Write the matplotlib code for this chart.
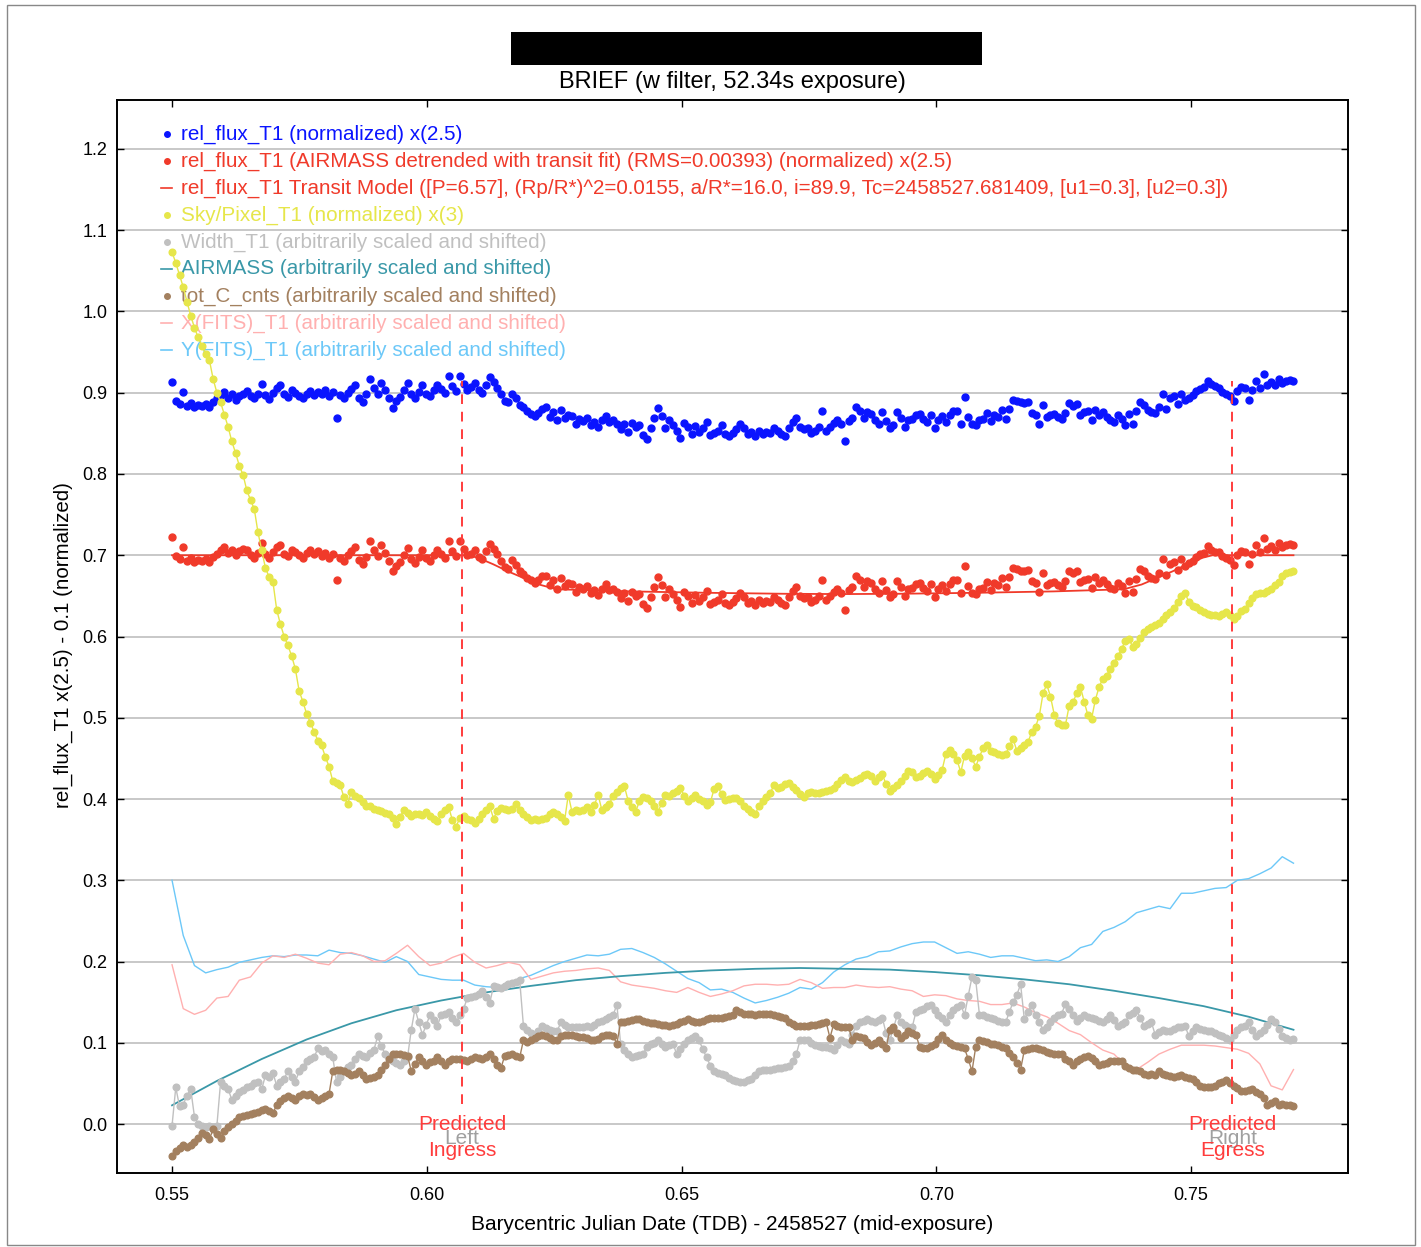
import numpy as np
import matplotlib.pyplot as plt
from matplotlib.patches import Rectangle

plt.rcParams['font.family'] = ['Liberation Sans', 'DejaVu Sans']

# frame mid-exposure times, BJD_TDB - 2458527
n_frames = 301
bjd = np.linspace(0.5500, 0.7701, n_frames)

# rel_flux_T1 (normalized) x2.5, in units of 0.001
rel_flux = [
    913, 890, 886, 901, 884, 887, 883, 885, 884, 886, 883, 889, 893, 897, 901, 894, 898, 891, 896, 899,
    902, 896, 893, 899, 911, 897, 892, 900, 906, 909, 898, 895, 903, 900, 896, 893, 899, 902, 897, 901,
    899, 903, 896, 901, 869, 897, 893, 900, 905, 910, 894, 889, 898, 917, 906, 899, 912, 903, 893, 881,
    890, 895, 903, 912, 898, 893, 901, 910, 899, 896, 903, 909, 905, 900, 921, 908, 902, 920, 911, 903,
    907, 912, 903, 900, 910, 919, 913, 906, 898, 890, 888, 899, 893, 885, 882, 877, 874, 871, 875, 880,
    882, 870, 876, 866, 879, 869, 873, 871, 862, 868, 865, 869, 860, 864, 858, 866, 871, 864, 866, 862,
    855, 861, 852, 863, 858, 860, 848, 843, 856, 869, 881, 871, 857, 866, 860, 853, 844, 863, 858, 849,
    859, 852, 856, 864, 848, 850, 853, 860, 849, 847, 851, 855, 861, 857, 849, 852, 847, 853, 849, 852,
    851, 857, 853, 849, 847, 857, 864, 869, 858, 855, 857, 851, 853, 858, 877, 853, 858, 863, 866, 861,
    840, 865, 869, 882, 878, 869, 876, 874, 867, 862, 876, 865, 856, 860, 876, 869, 858, 866, 868, 872,
    874, 868, 864, 873, 856, 866, 871, 864, 873, 877, 878, 862, 895, 870, 862, 860, 866, 868, 875, 865,
    873, 870, 879, 868, 880, 891, 890, 888, 887, 889, 875, 873, 862, 885, 870, 873, 874, 870, 868, 875,
    887, 884, 886, 873, 876, 877, 866, 879, 872, 876, 870, 866, 864, 872, 868, 860, 874, 861, 877, 889,
    885, 879, 876, 875, 882, 899, 880, 893, 896, 886, 899, 891, 894, 897, 902, 905, 907, 915, 911, 908,
    906, 901, 899, 896, 890, 902, 907, 906, 891, 903, 915, 906, 923, 910, 913, 909, 917, 912, 915, 916,
    915,
]

# rel_flux_T1 airmass detrended, x2.5
rel_flux_detr = [
    722, 699, 695, 710, 693, 696, 692, 694, 693, 695, 692, 698, 702, 706, 710, 703, 707, 700, 705, 708,
    706, 700, 697, 703, 715, 701, 696, 704, 710, 713, 702, 699, 707, 704, 700, 697, 703, 706, 701, 705,
    699, 703, 696, 701, 669, 697, 693, 700, 705, 710, 694, 689, 698, 717, 706, 699, 712, 703, 693, 681,
    687, 692, 700, 709, 695, 690, 698, 707, 696, 693, 700, 706, 702, 697, 718, 705, 699, 717, 708, 700,
    702, 707, 698, 695, 705, 714, 708, 701, 693, 685, 683, 694, 688, 680, 677, 672, 669, 666, 670, 675,
    675, 663, 669, 659, 672, 662, 666, 664, 655, 661, 658, 662, 653, 657, 651, 659, 664, 657, 659, 655,
    647, 653, 644, 655, 650, 652, 640, 635, 648, 661, 673, 663, 649, 658, 652, 645, 636, 655, 650, 641,
    651, 644, 648, 656, 640, 642, 645, 652, 641, 639, 643, 647, 653, 649, 641, 644, 639, 645, 641, 644,
    643, 649, 645, 641, 639, 649, 656, 661, 650, 647, 649, 643, 645, 650, 669, 645, 650, 655, 658, 653,
    632, 657, 661, 674, 670, 661, 668, 666, 659, 654, 668, 657, 648, 652, 668, 661, 650, 658, 660, 664,
    666, 660, 656, 665, 648, 658, 663, 656, 665, 669, 670, 654, 687, 662, 654, 652, 658, 660, 667, 657,
    666, 663, 672, 661, 673, 684, 683, 681, 680, 682, 668, 666, 655, 678, 663, 666, 667, 663, 661, 668,
    681, 678, 680, 667, 670, 671, 660, 673, 666, 670, 664, 660, 658, 666, 662, 654, 668, 655, 671, 683,
    681, 675, 672, 671, 678, 695, 676, 689, 692, 682, 695, 687, 690, 693, 698, 701, 703, 711, 707, 704,
    704, 699, 697, 694, 688, 700, 705, 704, 689, 701, 713, 704, 721, 708, 711, 707, 715, 710, 713, 714,
    713,
]

# Sky/Pixel_T1 (normalized) x3
sky = [
    1073, 1060, 1045, 1030, 1012, 995, 980, 968, 958, 948, 940, 917, 900, 888, 873, 858, 840, 826, 810, 799,
    780, 768, 757, 728, 706, 684, 673, 667, 633, 615, 600, 589, 576, 560, 533, 520, 505, 494, 483, 472,
    466, 452, 440, 422, 420, 417, 402, 394, 409, 404, 401, 396, 392, 391, 388, 386, 385, 383, 381, 377,
    369, 378, 386, 383, 379, 381, 382, 380, 384, 379, 375, 373, 381, 386, 390, 374, 366, 377, 379, 376,
    374, 371, 376, 381, 387, 391, 376, 385, 389, 388, 387, 388, 394, 386, 381, 378, 374, 375, 374, 376,
    377, 381, 384, 381, 378, 373, 405, 384, 387, 385, 387, 390, 384, 393, 405, 386, 390, 394, 404, 409,
    413, 416, 398, 390, 384, 397, 403, 401, 398, 391, 384, 395, 405, 404, 407, 410, 414, 404, 397, 401,
    405, 400, 397, 393, 396, 412, 416, 406, 399, 400, 401, 401, 397, 392, 388, 384, 381, 392, 397, 402,
    407, 417, 414, 415, 418, 420, 415, 411, 406, 403, 407, 409, 408, 407, 409, 410, 411, 414, 418, 423,
    427, 422, 421, 424, 426, 429, 431, 428, 422, 427, 431, 418, 410, 413, 417, 422, 428, 434, 433, 427,
    428, 432, 435, 431, 425, 429, 436, 455, 460, 455, 448, 433, 453, 458, 450, 440, 452, 463, 466, 459,
    458, 456, 454, 455, 465, 474, 459, 463, 466, 470, 483, 489, 502, 530, 541, 526, 504, 493, 491, 491,
    515, 519, 530, 538, 520, 503, 499, 522, 538, 548, 552, 560, 568, 576, 585, 594, 597, 587, 591, 598,
    605, 609, 612, 614, 616, 621, 626, 630, 635, 642, 650, 653, 643, 638, 636, 633, 630, 628, 627, 626,
    625, 628, 630, 627, 622, 625, 631, 634, 641, 647, 652, 654, 653, 656, 658, 663, 667, 674, 678, 679,
    680,
]

# Width_T1, scaled and shifted
width = [
    -2, 45, 22, 24, 35, 43, 9, 0, -3, -4, -2, -4, -2, 52, 47, 43, 30, 34, 39, 42,
    45, 47, 50, 52, 43, 60, 58, 63, 47, 52, 56, 65, 58, 52, 65, 70, 78, 80, 82, 93,
    90, 91, 86, 82, 52, 58, 65, 70, 73, 80, 86, 84, 82, 87, 91, 108, 96, 86, 82, 78,
    75, 73, 78, 82, 116, 142, 125, 110, 122, 134, 128, 121, 134, 136, 138, 131, 125, 134, 142, 155,
    156, 157, 160, 164, 156, 149, 170, 169, 168, 170, 172, 174, 175, 177, 121, 116, 112, 108, 115, 121,
    118, 116, 115, 114, 125, 122, 120, 119, 119, 120, 119, 121, 119, 122, 125, 127, 129, 132, 134, 147,
    99, 91, 86, 82, 84, 85, 86, 95, 98, 100, 103, 99, 95, 97, 99, 86, 92, 99, 103, 106,
    108, 103, 92, 82, 72, 65, 63, 62, 60, 57, 54, 53, 52, 52, 54, 56, 60, 65, 66, 67,
    67, 68, 69, 69, 70, 71, 78, 86, 103, 104, 103, 100, 97, 96, 95, 95, 93, 91, 97, 103,
    101, 99, 110, 121, 125, 127, 129, 127, 125, 128, 131, 112, 103, 118, 134, 125, 122, 120, 119, 138,
    140, 142, 145, 147, 140, 134, 130, 125, 134, 140, 144, 147, 134, 158, 181, 177, 134, 134, 132, 130,
    129, 127, 126, 125, 138, 150, 159, 172, 129, 138, 147, 134, 125, 116, 120, 125, 130, 134, 136, 148,
    142, 134, 127, 130, 134, 132, 131, 129, 127, 125, 129, 134, 128, 121, 123, 125, 134, 137, 140, 131,
    121, 123, 125, 110, 113, 116, 115, 114, 117, 119, 120, 121, 108, 114, 119, 117, 116, 115, 114, 112,
    110, 108, 106, 103, 110, 116, 119, 121, 125, 116, 108, 112, 116, 122, 129, 125, 117, 108, 106, 104,
    105,
]

# tot_C_cnts, scaled and shifted
tot_c = [
    -39, -33, -30, -26, -28, -26, -22, -17, -11, -13, -19, -6, -12, -17, -8, -4, 0, 4, 9, 10,
    11, 12, 13, 15, 17, 19, 16, 13, 24, 28, 32, 34, 32, 30, 34, 37, 36, 37, 33, 30,
    32, 35, 37, 65, 66, 67, 65, 63, 60, 62, 65, 60, 56, 57, 58, 60, 66, 73, 80, 86,
    86, 86, 85, 84, 65, 74, 82, 77, 73, 76, 78, 82, 77, 73, 77, 80, 80, 80, 79, 78,
    80, 82, 81, 80, 83, 86, 80, 73, 69, 84, 85, 86, 84, 82, 103, 101, 104, 106, 108, 110,
    108, 106, 104, 103, 108, 109, 110, 109, 108, 107, 107, 106, 104, 103, 105, 108, 110, 109, 108, 99,
    125, 126, 127, 128, 129, 129, 127, 125, 124, 124, 123, 122, 122, 121, 122, 123, 125, 127, 129, 127,
    126, 125, 127, 129, 131, 131, 131, 131, 132, 133, 134, 140, 138, 136, 135, 135, 134, 135, 136, 136,
    135, 134, 133, 132, 131, 125, 123, 121, 121, 121, 121, 122, 122, 123, 124, 125, 106, 123, 121, 119,
    119, 119, 103, 108, 107, 106, 101, 97, 100, 103, 98, 93, 116, 119, 112, 106, 110, 114, 112, 110,
    95, 94, 93, 96, 99, 105, 110, 103, 100, 97, 96, 95, 93, 80, 65, 95, 103, 102, 101, 99,
    98, 97, 95, 93, 88, 82, 75, 67, 91, 92, 93, 93, 92, 91, 89, 88, 86, 86, 86, 80,
    77, 73, 77, 80, 82, 84, 81, 78, 73, 74, 75, 77, 78, 78, 78, 71, 69, 67, 66, 65,
    62, 60, 61, 60, 65, 62, 60, 59, 58, 59, 60, 58, 57, 56, 52, 47, 46, 45, 46, 47,
    50, 52, 54, 50, 47, 44, 41, 41, 42, 43, 40, 37, 32, 24, 26, 28, 24, 25, 24, 23,
    22,
]

# X(FITS)_T1 and Y(FITS)_T1, every third frame
x_fits = [
    196, 142, 135, 140, 155, 157, 177, 181, 198, 207,
    205, 209, 204, 198, 196, 209, 211, 207, 200, 201,
    210, 220, 206, 195, 198, 205, 210, 199, 192, 195,
    199, 196, 178, 182, 186, 188, 189, 191, 192, 189,
    175, 171, 169, 167, 164, 162, 168, 162, 157, 160,
    164, 170, 172, 172, 171, 172, 178, 174, 167, 168,
    168, 171, 169, 168, 169, 166, 164, 157, 159, 158,
    154, 152, 151, 147, 147, 149, 144, 137, 132, 124,
    115, 110, 100, 91, 86, 72, 67, 76, 86, 92,
    97, 97, 97, 96, 94, 92, 87, 74, 47, 42,
    67,
]
y_fits = [
    300, 232, 195, 186, 190, 193, 199, 202, 205, 207,
    206, 208, 208, 207, 214, 211, 210, 207, 203, 199,
    206, 200, 184, 181, 178, 177, 177, 171, 169, 168,
    173, 179, 183, 189, 195, 200, 204, 208, 207, 209,
    215, 216, 211, 205, 197, 188, 179, 174, 165, 166,
    162, 155, 149, 152, 156, 161, 168, 166, 174, 187,
    196, 203, 206, 212, 213, 218, 222, 224, 224, 217,
    210, 212, 209, 205, 207, 207, 204, 201, 202, 200,
    206, 217, 221, 237, 242, 249, 260, 264, 268, 265,
    284, 284, 287, 290, 291, 300, 302, 308, 315, 329,
    321,
]

# AIRMASS, every twelfth frame
airmass = [23, 53, 80, 104, 124, 140, 152, 162, 170, 177, 182, 186, 189,
           191, 192, 191, 190, 187, 183, 178, 172, 164, 155, 145, 132, 116]

# transit model
model_t = [0.5500, 0.6081, 0.6100, 0.6130, 0.6160, 0.6190, 0.6220, 0.6250, 0.6262,
           0.6400, 0.6550, 0.6700, 0.6814, 0.6930, 0.7080, 0.7230, 0.7361, 0.7373,
           0.7403, 0.7433, 0.7463, 0.7493, 0.7523, 0.7542, 0.7701]
model_flux = [0.700, 0.700, 0.697, 0.689, 0.680, 0.672, 0.664, 0.659, 0.658,
              0.6555, 0.6538, 0.6526, 0.6522, 0.6526, 0.6538, 0.6555, 0.658, 0.659,
              0.664, 0.672, 0.680, 0.689, 0.697, 0.700, 0.700]

ingress, egress = 0.6069, 0.7581

c_blue = '#0a14ff'
c_red = '#f03a2a'
c_yellow = '#e6e64a'
c_gray = '#c0c0c0'
c_teal = '#3a98a8'
c_brown = '#a3805f'
c_pink = '#ffb0b0'
c_lblue = '#6cc8f8'
c_dash = '#ff3c3c'

fig = plt.figure(figsize=(14.21, 12.47), dpi=100)
fig.add_artist(Rectangle((0.005, 0.002), 0.991, 0.994, transform=fig.transFigure,
                         fill=False, edgecolor='#888888', lw=1))
fig.add_artist(Rectangle((0.3596, 0.9479), 0.3315, 0.0265, transform=fig.transFigure,
                         facecolor='black', edgecolor='none'))
fig.text(0.5151, 0.9345, 'BRIEF (w filter, 52.34s exposure)', ha='center', va='center',
         fontsize=17)

ax = fig.add_axes([117 / 1421, 1 - 1173 / 1247, 1231 / 1421, 1073 / 1247])
ax.set_xlim(0.5392, 0.7808)
ax.set_ylim(-0.0603, 1.2603)

m = lambda v: np.array(v) / 1000.0

ax.plot(bjd[::3], m(y_fits), color=c_lblue, lw=1.0, zorder=2)
ax.plot(bjd[::3], m(x_fits), color=c_pink, lw=1.0, zorder=2.1)
ax.plot(bjd[::12], m(airmass), color=c_teal, lw=1.3, zorder=2.2)
ax.plot(bjd, m(width), '-o', color=c_gray, ms=4.8, lw=1.0, zorder=3)
ax.plot(bjd, m(tot_c), '-o', color=c_brown, ms=4.8, lw=1.0, zorder=3.1)
ax.plot(model_t, model_flux, color=c_red, lw=1.3, zorder=3.5)
ax.plot(bjd, m(rel_flux_detr), 'o', color=c_red, ms=5.0, zorder=4)
ax.plot(bjd, m(rel_flux), 'o', color=c_blue, ms=5.0, zorder=4)
ax.plot(bjd, m(sky), '-o', color=c_yellow, ms=4.8, lw=1.0, zorder=5)

for tx in (ingress, egress):
    ax.plot([tx, tx], [0.025, 0.915], color=c_dash, lw=1.4, ls=(0, (5, 4)), zorder=6)
for tx, side, edge in ((ingress, 'Left', 'Ingress'), (egress, 'Right', 'Egress')):
    ax.text(tx, -0.001, 'Predicted', color=c_dash, fontsize=15, ha='center', va='center', zorder=7)
    ax.text(tx, -0.018, side, color='#a0a0a0', fontsize=15, ha='center', va='center', zorder=6.5)
    ax.text(tx, -0.033, edge, color=c_dash, fontsize=15, ha='center', va='center', zorder=7)

# legend rows, drawn by hand in axes coordinates
legend_rows = [
    ('rel_flux_T1 (normalized) x(2.5)', c_blue, 'o'),
    ('rel_flux_T1 (AIRMASS detrended with transit fit) (RMS=0.00393) (normalized) x(2.5)', c_red, 'o'),
    ('rel_flux_T1 Transit Model ([P=6.57], (Rp/R*)^2=0.0155, a/R*=16.0, i=89.9, '
     'Tc=2458527.681409, [u1=0.3], [u2=0.3])', c_red, '-'),
    ('Sky/Pixel_T1 (normalized) x(3)', c_yellow, 'o'),
    ('Width_T1 (arbitrarily scaled and shifted)', c_gray, 'o'),
    ('AIRMASS (arbitrarily scaled and shifted)', c_teal, '-'),
    ('tot_C_cnts (arbitrarily scaled and shifted)', c_brown, 'o'),
    ('X(FITS)_T1 (arbitrarily scaled and shifted)', c_pink, '-'),
    ('Y(FITS)_T1 (arbitrarily scaled and shifted)', c_lblue, '-'),
]
for k, (label, col, kind) in enumerate(legend_rows):
    yy = 0.9683 - 0.02516 * k
    if kind == 'o':
        ax.plot([0.0406], [yy], 'o', color=col, ms=4.0, transform=ax.transAxes, zorder=1.5)
    else:
        ax.plot([0.0357, 0.0447], [yy, yy], color=col, lw=1.2, transform=ax.transAxes, zorder=1.5)
    ax.text(0.052, yy, label, color=col, fontsize=14.9, ha='left', va='center',
            transform=ax.transAxes, zorder=1.5)

ax.set_yticks(np.arange(0.0, 1.21, 0.1))
ax.set_xticks([0.55, 0.60, 0.65, 0.70, 0.75])
ax.yaxis.set_major_formatter(plt.FormatStrFormatter('%.1f'))
ax.xaxis.set_major_formatter(plt.FormatStrFormatter('%.2f'))
ax.yaxis.grid(True, color='#c8c8c8', lw=1.4)
ax.set_axisbelow(True)
ax.tick_params(direction='in', top=True, right=True, length=5, width=1, labelsize=13)
ax.tick_params(axis='x', pad=10)
ax.tick_params(axis='y', pad=7)
for sp in ax.spines.values():
    sp.set_linewidth(1.4)

ax.set_xlabel('Barycentric Julian Date (TDB) - 2458527 (mid-exposure)', fontsize=15)
ax.xaxis.set_label_coords(0.5, -0.039)
ax.set_ylabel('rel_flux_T1 x(2.5) - 0.1 (normalized)', fontsize=14.8)
ax.yaxis.set_label_coords(-0.036, 0.492)

fig.savefig('out.png', dpi=100)
